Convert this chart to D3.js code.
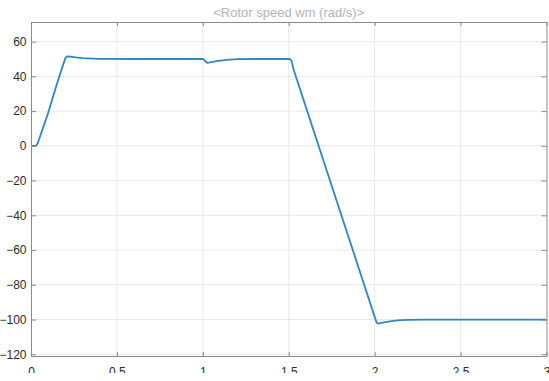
<!DOCTYPE html>
<html>
<head>
<meta charset="utf-8">
<script src="https://cdn.jsdelivr.net/npm/d3@7"></script>
<style>
  body { margin: 0; background: #fff; }
  svg { display: block; }
  text { font-family: "Liberation Sans", Arial, Helvetica, sans-serif; }
</style>
</head>
<body>
<div id="chart"></div>
<script>
const width = 549;
const height = 381;

// rotor speed trace
const time = [0, 0.03, 0.04, 0.1, 0.15, 0.19, 0.2, 0.21, 0.23, 0.26, 0.3, 0.4, 0.6, 1.0, 1.005, 1.015, 1.026, 1.05, 1.08, 1.14, 1.2, 1.3, 1.505, 1.515, 1.53, 2.005, 2.013, 2.02, 2.04, 2.07, 2.1, 2.15, 2.2, 2.3, 3.0];
const speed = [0, 0, 1.8, 19, 35.5, 47.5, 50.5, 51.5, 51.4, 50.9, 50.5, 50.1, 50, 50, 49.8, 48.6, 47.8, 48.2, 48.8, 49.5, 49.9, 50, 50, 49.2, 43.4, -99.9, -102, -102.3, -101.9, -101.3, -100.9, -100.4, -100.15, -100, -100];

const xTicks = [0, 0.5, 1, 1.5, 2, 2.5, 3];
const xTickLabels = ["0", "0.5", "1", "1.5", "2", "2.5", "3"];
const yTicks = [60, 40, 20, 0, -20, -40, -60, -80, -100, -120];
const title = "<Rotor speed wm (rad/s)>";

const plotLeft = 31, plotRight = 546.5, plotTop = 22, plotBottom = 356;

const x = d3.scaleLinear().domain([0, 3]).range([plotLeft, plotRight]);
const y = d3.scaleLinear().domain([-121, 71.3]).range([plotBottom, plotTop]);

const svg = d3.select("#chart").append("svg")
    .attr("width", width)
    .attr("height", height);

// grid
const grid = svg.append("g").attr("stroke", "#e8e8e8").attr("stroke-width", 1);
grid.selectAll("line.gx")
    .data(xTicks.slice(1, -1))
    .join("line")
    .attr("class", "gx")
    .attr("x1", d => x(d)).attr("x2", d => x(d))
    .attr("y1", plotTop).attr("y2", plotBottom);
grid.selectAll("line.gy")
    .data(yTicks.filter(d => d > -121 && d < 71))
    .join("line")
    .attr("class", "gy")
    .attr("y1", d => y(d)).attr("y2", d => y(d))
    .attr("x1", plotLeft).attr("x2", plotRight);

// data line
const line = d3.line()
    .x((d, i) => x(time[i]))
    .y(d => y(d));

svg.append("path")
    .datum(speed)
    .attr("d", line)
    .attr("fill", "none")
    .attr("stroke", "#2f86c3")
    .attr("stroke-width", 1.8)
    .attr("stroke-linejoin", "round");

// axes
function styleAxis(g) {
    g.select(".domain").attr("stroke", "#8a8a8a");
    g.selectAll(".tick line").attr("stroke", "#8a8a8a");
    g.selectAll(".tick text").attr("fill", "#2b2b2b").attr("font-size", 12);
}

svg.append("g")
    .attr("transform", `translate(0,${plotBottom})`)
    .call(d3.axisBottom(x).tickValues(xTicks).tickFormat((d, i) => xTickLabels[i]).tickSizeInner(-4).tickSizeOuter(0).tickPadding(11))
    .call(styleAxis);

svg.append("g")
    .attr("transform", `translate(${plotLeft},0)`)
    .call(d3.axisLeft(y).tickValues(yTicks).tickSizeInner(-5).tickSizeOuter(0).tickPadding(4.5))
    .call(styleAxis);

svg.append("g")
    .attr("transform", `translate(0,${plotTop})`)
    .call(d3.axisTop(x).tickValues(xTicks).tickFormat("").tickSizeInner(-4).tickSizeOuter(0))
    .call(styleAxis);

svg.append("g")
    .attr("transform", `translate(${plotRight},0)`)
    .call(d3.axisRight(y).tickValues(yTicks).tickFormat("").tickSizeInner(-5).tickSizeOuter(0))
    .call(styleAxis);

// title
svg.append("text")
    .attr("x", (plotLeft + plotRight) / 2)
    .attr("y", 16.5)
    .attr("text-anchor", "middle")
    .attr("font-size", 13)
    .attr("fill", "#b5b5b5")
    .text(title);

// the source image is cropped just below the tick labels
svg.append("rect")
    .attr("x", 0).attr("y", 373)
    .attr("width", width).attr("height", height - 373)
    .attr("fill", "#fff");
</script>
</body>
</html>
